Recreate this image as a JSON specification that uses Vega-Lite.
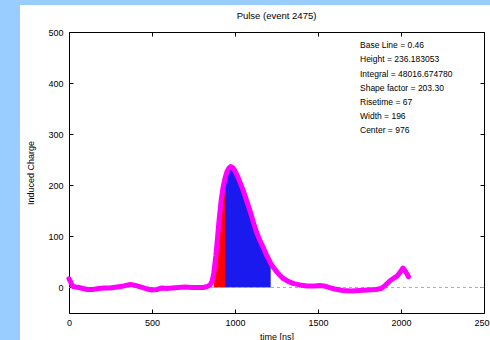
{
  "$schema": "https://vega.github.io/schema/vega-lite/v6.json",
  "width": 415,
  "height": 281,
  "autosize": {"type": "none"},
  "padding": {"left": 69, "top": 32, "right": 6, "bottom": 27},
  "background": "#ffffff",
  "title": {
    "text": "Pulse (event 2475)",
    "font": "Liberation Sans",
    "fontSize": 9.5,
    "fontWeight": "normal",
    "color": "#000000",
    "anchor": "middle",
    "offset": -24
  },
  "config": {
    "view": {"stroke": "#000000", "strokeWidth": 1},
    "axis": {
      "domain": false,
      "grid": false,
      "tickColor": "#000000",
      "tickSize": -4,
      "labelFont": "Liberation Sans",
      "labelFontSize": 9,
      "labelColor": "#000000",
      "labelFlush": false,
      "labelOverlap": false,
      "titleFont": "Liberation Sans",
      "titleFontSize": 9,
      "titleFontWeight": "normal",
      "titleColor": "#000000",
      "format": "d"
    }
  },
  "datasets": {
    "pulse": [
      {"t": 0, "q": 17}, {"t": 8, "q": 12}, {"t": 16, "q": 6}, {"t": 25, "q": 2},
      {"t": 40, "q": 1}, {"t": 60, "q": 0}, {"t": 84, "q": -2}, {"t": 110, "q": -4},
      {"t": 145, "q": -4}, {"t": 180, "q": -2}, {"t": 210, "q": -1}, {"t": 247, "q": -1},
      {"t": 290, "q": 1}, {"t": 330, "q": 3}, {"t": 370, "q": 6}, {"t": 400, "q": 4},
      {"t": 430, "q": 1}, {"t": 460, "q": -2}, {"t": 500, "q": -5}, {"t": 530, "q": -4},
      {"t": 560, "q": -1}, {"t": 590, "q": -2}, {"t": 620, "q": -1}, {"t": 660, "q": 0},
      {"t": 700, "q": 1}, {"t": 740, "q": 0}, {"t": 780, "q": 0}, {"t": 810, "q": 0},
      {"t": 835, "q": 2}, {"t": 850, "q": 5}, {"t": 862, "q": 12}, {"t": 872, "q": 28},
      {"t": 885, "q": 63}, {"t": 895, "q": 98}, {"t": 903, "q": 128}, {"t": 915, "q": 166},
      {"t": 927, "q": 194}, {"t": 940, "q": 214}, {"t": 952, "q": 227}, {"t": 964, "q": 234},
      {"t": 975, "q": 236.6}, {"t": 988, "q": 234}, {"t": 1000, "q": 228}, {"t": 1020, "q": 214},
      {"t": 1045, "q": 194}, {"t": 1070, "q": 170}, {"t": 1095, "q": 145}, {"t": 1112, "q": 126},
      {"t": 1131, "q": 107}, {"t": 1150, "q": 92}, {"t": 1169, "q": 79}, {"t": 1190, "q": 63},
      {"t": 1211, "q": 50}, {"t": 1215, "q": 47}, {"t": 1232, "q": 39}, {"t": 1253, "q": 30},
      {"t": 1270, "q": 24}, {"t": 1289, "q": 18}, {"t": 1320, "q": 12}, {"t": 1349, "q": 8},
      {"t": 1390, "q": 5}, {"t": 1434, "q": 3}, {"t": 1480, "q": 3}, {"t": 1510, "q": 4},
      {"t": 1535, "q": 3}, {"t": 1565, "q": 0}, {"t": 1600, "q": -3}, {"t": 1650, "q": -6},
      {"t": 1700, "q": -7}, {"t": 1750, "q": -6}, {"t": 1800, "q": -5}, {"t": 1850, "q": -4},
      {"t": 1880, "q": -2}, {"t": 1905, "q": 4}, {"t": 1934, "q": 13}, {"t": 1960, "q": 19},
      {"t": 1976, "q": 22}, {"t": 1995, "q": 30}, {"t": 2012, "q": 38}, {"t": 2028, "q": 31},
      {"t": 2045, "q": 21}
    ],
    "info": [
      {"label": "Base Line = 0.46\nHeight = 236.183053\nIntegral = 48016.674780\nShape factor = 203.30\nRisetime = 67\nWidth = 196\nCenter = 976"}
    ],
    "frame": [
      {"x0": -420, "x1": -295, "y0": -110, "y1": 570},
      {"x0": -295, "x1": 2540, "y0": 553, "y1": 570}
    ]
  },
  "layer": [
    {
      "description": "light blue window frame along the left and top edges, with mirrored ticks on top and right",
      "data": {"name": "frame"},
      "mark": {"type": "rect", "color": "#99ccff", "clip": false},
      "encoding": {
        "x": {"field": "x0", "type": "quantitative",
              "scale": {"domain": [0, 2500], "nice": false, "zero": false},
              "axis": {"orient": "top", "values": [0, 500, 1000, 1500, 2000, 2500], "labels": false, "title": null}},
        "x2": {"field": "x1"},
        "y": {"field": "y0", "type": "quantitative",
              "scale": {"domain": [-50, 500], "nice": false, "zero": false},
              "axis": {"orient": "right", "values": [0, 100, 200, 300, 400, 500], "labels": false, "title": null}},
        "y2": {"field": "y1"}
      }
    },
    {
      "data": {"name": "pulse"},
      "transform": [{"filter": "datum.t >= 865 && datum.t <= 940"}],
      "mark": {"type": "area", "color": "#ff0000", "opacity": 1},
      "encoding": {
        "x": {"field": "t", "type": "quantitative", "scale": {"domain": [0, 2500], "nice": false, "zero": false}, "axis": null},
        "y": {"field": "q", "type": "quantitative", "scale": {"domain": [-50, 500], "nice": false, "zero": false}, "axis": null},
        "y2": {"datum": 0}
      }
    },
    {
      "data": {"name": "pulse"},
      "transform": [{"filter": "datum.t >= 940 && datum.t <= 1215"}],
      "mark": {"type": "area", "color": "#1a1aee", "opacity": 1},
      "encoding": {
        "x": {"field": "t", "type": "quantitative", "scale": {"domain": [0, 2500], "nice": false, "zero": false}, "axis": null},
        "y": {"field": "q", "type": "quantitative", "scale": {"domain": [-50, 500], "nice": false, "zero": false}, "axis": null},
        "y2": {"datum": 0}
      }
    },
    {
      "description": "base line",
      "data": {"values": [{}]},
      "mark": {"type": "rule", "color": "#66dd66", "strokeWidth": 1, "strokeDash": [3, 3]},
      "encoding": {
        "y": {"datum": 0, "type": "quantitative", "scale": {"domain": [-50, 500], "nice": false, "zero": false}, "axis": null}
      }
    },
    {
      "data": {"name": "pulse"},
      "mark": {"type": "line", "color": "#ff00ff", "strokeWidth": 5, "strokeJoin": "round", "strokeCap": "round"},
      "encoding": {
        "x": {"field": "t", "type": "quantitative",
              "scale": {"domain": [0, 2500], "nice": false, "zero": false},
              "axis": {"orient": "bottom", "values": [0, 500, 1000, 1500, 2000, 2500], "title": "time [ns]", "labelPadding": 9, "titlePadding": 5}},
        "y": {"field": "q", "type": "quantitative",
              "scale": {"domain": [-50, 500], "nice": false, "zero": false},
              "axis": {"orient": "left", "values": [0, 100, 200, 300, 400, 500], "title": "Induced  Charge", "labelPadding": 10, "titlePadding": 12}}
      }
    },
    {
      "data": {"name": "info"},
      "mark": {"type": "text", "align": "left", "baseline": "top", "lineBreak": "\n", "lineHeight": 14.2,
               "font": "Liberation Sans", "fontSize": 8.5, "color": "#000000"},
      "encoding": {
        "text": {"field": "label", "type": "nominal"},
        "x": {"datum": 1753, "type": "quantitative", "scale": {"domain": [0, 2500], "nice": false, "zero": false}, "axis": null},
        "y": {"datum": 482, "type": "quantitative", "scale": {"domain": [-50, 500], "nice": false, "zero": false}, "axis": null}
      }
    }
  ],
  "resolve": {"axis": {"x": "independent", "y": "independent"}}
}
